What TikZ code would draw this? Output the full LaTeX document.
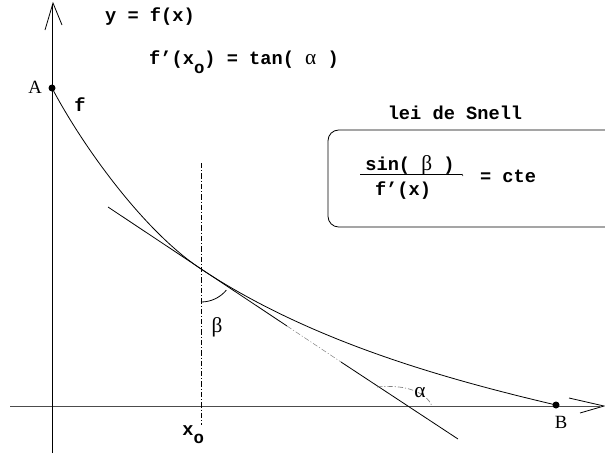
\documentclass[tikz,border=0pt]{standalone}
\usepackage{fontspec}
\setmainfont{Liberation Serif}
\setmonofont{Liberation Mono}
\newcommand{\subo}{\raisebox{-0.45em}{\fontsize{13}{15}\selectfont o}}
\begin{document}
\begin{tikzpicture}[x=0.75pt,y=-0.75pt, line width=0.6pt,
  mono/.style={font=\fontsize{14}{16}\selectfont\ttfamily\bfseries, inner sep=0pt},
  serif/.style={font=\fontsize{14}{16}\selectfont\rmfamily, inner sep=0pt},
  greek/.style={font=\fontsize{16}{18}\selectfont\rmfamily, inner sep=0pt},
  dashdotline/.style={dash pattern=on 4pt off 1.5pt on 0.8pt off 1.5pt}]
\useasboundingbox (0,0) rectangle (605,454);
\clip (0,0) rectangle (605,454);
\coordinate (A) at (52,88);
\coordinate (B) at (556,405);
\coordinate (P) at (201,269);
\coordinate (T1) at (108,207);
\coordinate (T2) at (287,326);
\coordinate (T3) at (341,362);
\coordinate (T4) at (458,439);
\coordinate (XL) at (10,406);
\coordinate (XR) at (600,406);
\coordinate (YB) at (52,453);
\coordinate (YT) at (52,5);
% axes
\draw[gray!60!black] (XL) -- (XR);
\draw (569,398) -- (604,406) -- (580,413);
\draw (YB) -- (YT);
\draw (45,30) -- (53,3) -- (62,25);
% curve
\draw (A) .. controls (82,145) and (143,230.5) .. (P) .. controls (313,343) and (450,380) .. (B);
% tangent
\draw (T1) -- (T2);
\draw[gray, dashdotline, line width=0.4pt] (T2) -- (T3);
\draw (T3) -- (T4);
% vertical
\draw[dashdotline, line width=0.5pt] (201,163) -- (201,425);
% angles
\draw (P) ++(90:33) arc[start angle=90, end angle=40, radius=33];
\draw[gray, dashdotline, line width=0.5pt] (377,387) .. controls (405,384) and (426,392) .. (432,406);
% points
\fill (A) circle (3.5);
\fill (B) circle (3.5);
% labels
\node[serif] (la) at (35,87) {A};
\node[serif] (lb) at (561,422) {B};
\node[mono] (lf) at (80,105) {f};
\node[mono] (yfx) at (150,17) {y = f(x)};
\node[mono] (deriv) at (244,62) {f’(x\subo) = tan( {\mdseries\rmfamily\fontsize{16}{18}\selectfont α} )};
\node[mono] (lei) at (455,113) {lei de Snell};
\draw[rounded corners=8] (328,130) rectangle (625,227);
\node[mono] (sin) at (410,165) {sin( {\mdseries\rmfamily\fontsize{16}{18}\selectfont β} )};
\draw (360,174) -- (462,174);
\draw[line width=0.4pt] (462,174) -- (463,176);
\node[mono] (fpx) at (403,191) {f’(x)};
\node[mono] (cte) at (508,176) {= cte};
\node[greek] (beta) at (217,327) {β};
\node[greek] (alpha) at (420,393) {α};
\node[mono, anchor=base west] (x0) at (182,435) {x\subo};
\end{tikzpicture}
\end{document}
